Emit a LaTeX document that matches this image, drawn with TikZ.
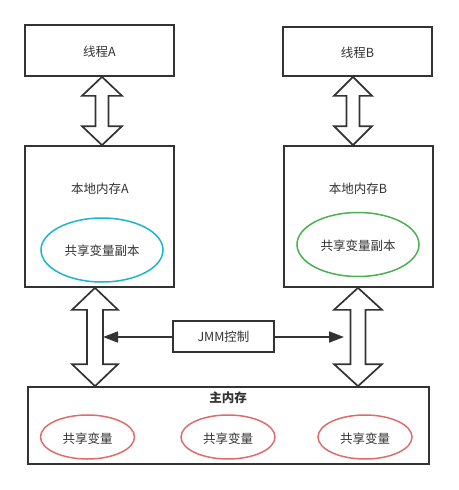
\documentclass[tikz,border=0pt]{standalone}
\usepackage{fontspec}
\setmainfont{Noto Sans CJK SC}
\usetikzlibrary{arrows.meta,calc}
\definecolor{ln}{HTML}{333333}
\definecolor{cyanE}{HTML}{1BB5CF}
\definecolor{greenE}{HTML}{4CAF50}
\definecolor{redE}{HTML}{E06B6B}
\tikzset{
  box/.style={draw=ln,line width=1.7pt,fill=white,minimum width=#1,inner sep=0pt},
  lbl/.style={font=\fontsize{12.5}{15}\selectfont,text=ln,inner sep=0pt},
  oval/.style={draw=#1,line width=1.5pt,ellipse},
  fat/.style={draw=ln,line width=1.7pt,fill=white,line join=miter},
  thin/.style={draw=ln,line width=1.6pt,-{Triangle[length=15pt,width=11pt]}}
}
\newcommand\fatarrow[6]{%
  \path[fat] let \p1=(#2.south), \p2=(#3.north) in
   (#1pt,\y1) -- (#1pt+#4pt,\y1-#6pt) -- (#1pt+#5pt,\y1-#6pt) -- (#1pt+#5pt,\y2+#6pt)
   -- (#1pt+#4pt,\y2+#6pt) -- (#1pt,\y2) -- (#1pt-#4pt,\y2+#6pt) -- (#1pt-#5pt,\y2+#6pt)
   -- (#1pt-#5pt,\y1-#6pt) -- (#1pt-#4pt,\y1-#6pt) -- cycle;}
\usetikzlibrary{shapes.geometric}
\begin{document}
\begin{tikzpicture}[x=1pt,y=-1pt]
\useasboundingbox[fill=white] (0,0) rectangle (458,490);
% thread boxes
\node[box=149pt,minimum height=51pt] (ta) at (99.5,50.5) {};
\node[lbl] (tat) at (99.5,52) {线程A};
\node[box=149pt,minimum height=49pt] (tb) at (357.5,51.5) {};
\node[lbl] (tbt) at (357.5,53) {线程B};
% local memory boxes
\node[box=149pt,minimum height=141pt] (la) at (99.5,216.5) {};
\node[lbl] (lat) at (100,189) {本地内存A};
\node[oval=cyanE,minimum width=122pt,minimum height=64pt] (ca) at (102,250) {};
\node[lbl] (cat) at (102,251) {共享变量副本};
\node[box=149pt,minimum height=141pt] (lb) at (358.5,216.5) {};
\node[lbl] (lbt) at (358,189) {本地内存B};
\node[oval=greenE,minimum width=122pt,minimum height=64pt] (cb) at (358,244.5) {};
\node[lbl] (cbt) at (358,246) {共享变量副本};
% main memory
\node[box=401pt,minimum height=77pt] (mm) at (228.5,425.5) {};
\node[lbl,font=\fontsize{12.5}{15}\selectfont\bfseries] (mmt) at (228,398) {主内存};
\foreach \i/\x in {1/87.5,2/228,3/365}{
  \node[oval=redE,minimum width=94pt,minimum height=44pt] (v\i) at (\x,437) {};
  \node[lbl] (v\i t) at (\x,439) {共享变量};
}
% fat arrows
\fatarrow{102}{ta}{la}{20}{6.5}{19}
\fatarrow{353}{tb}{lb}{19}{6.5}{19}
\fatarrow{95}{la}{mm}{23}{8}{22}
\fatarrow{358}{lb}{mm}{24}{7.5}{22}
% JMM control
\node[box=101pt,minimum height=31pt,lbl,draw=ln,line width=1.7pt] (jmm) at (223.5,336.5) {JMM控制};
\coordinate (ja) at (103,337);
\coordinate (jb) at (344,337);
\draw[thin] (jmm.west |- ja) -- (ja);
\draw[thin] (jmm.east |- jb) -- (jb);
\end{tikzpicture}
\end{document}
